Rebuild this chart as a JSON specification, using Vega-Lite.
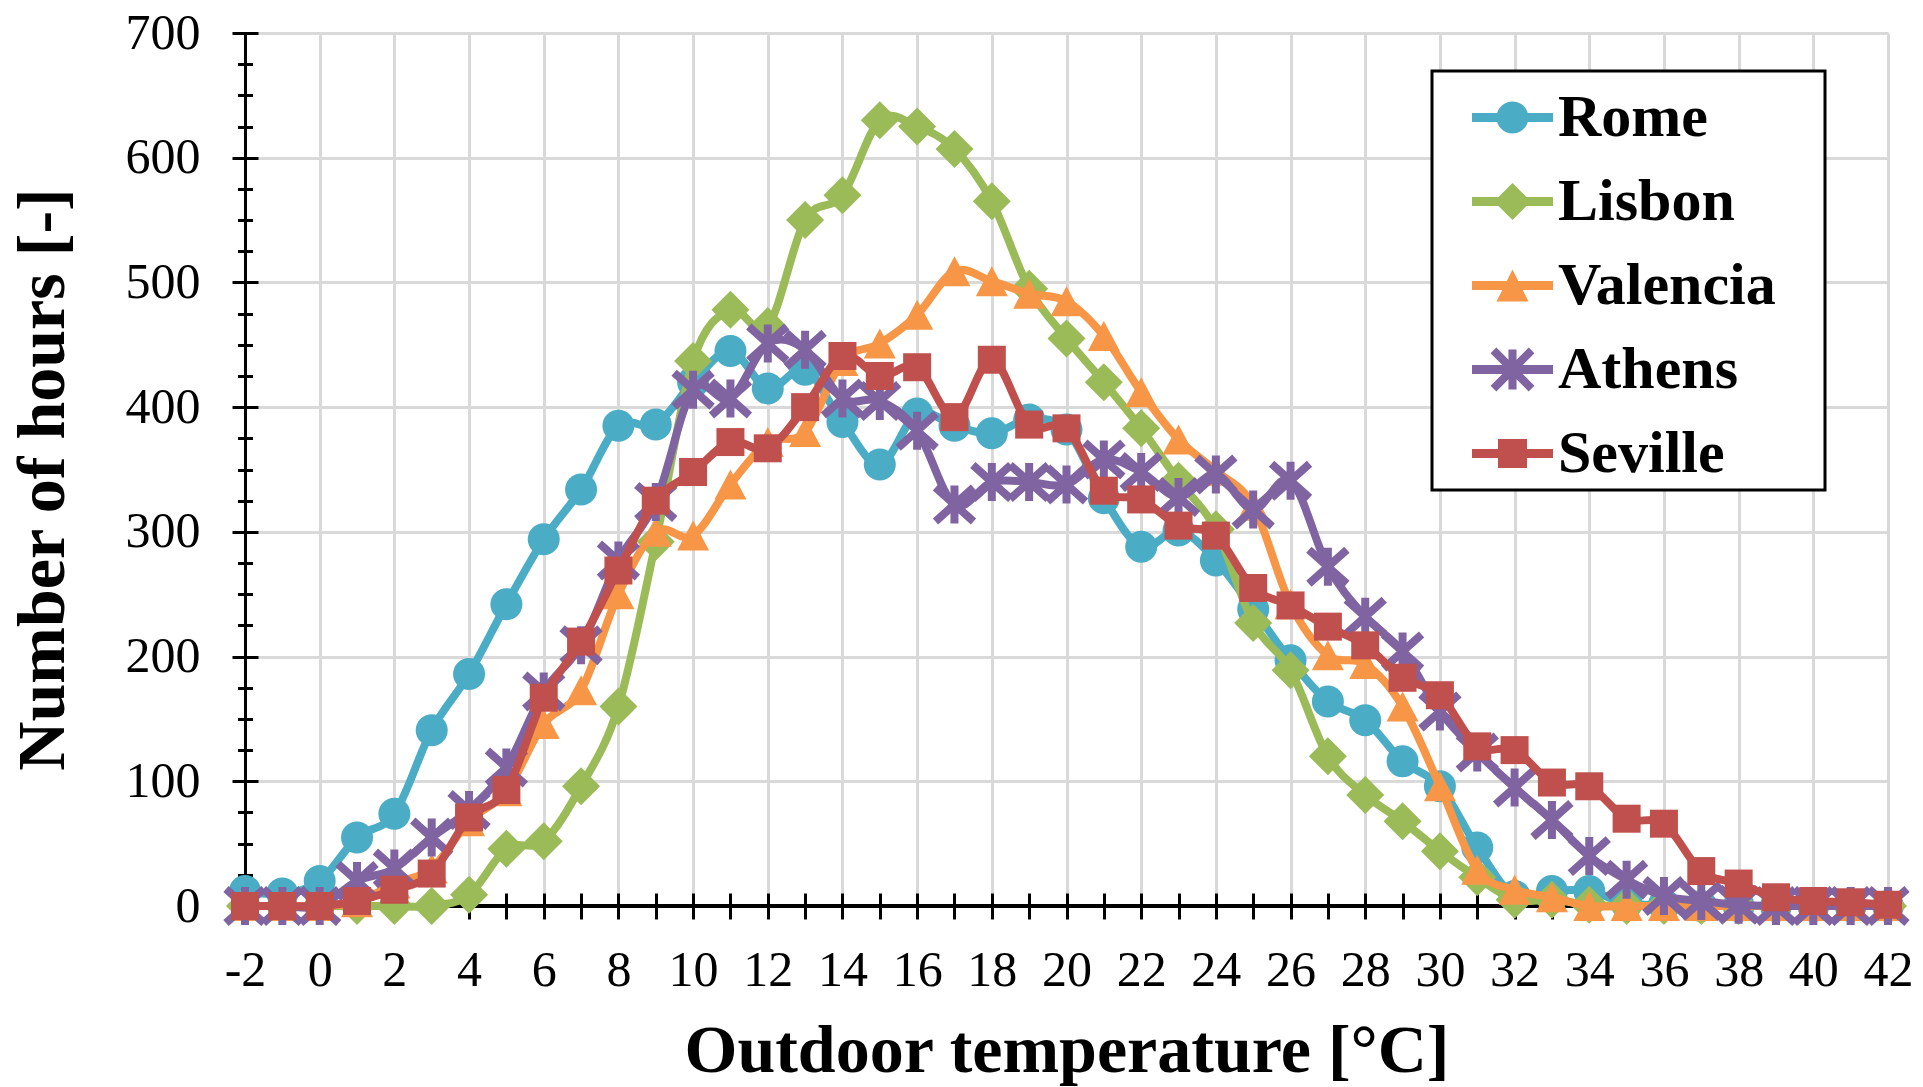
{
"$schema": "https://vega.github.io/schema/vega-lite/v6.json",
"width": 1643, "height": 873,
"autosize": {"type": "none"},
"padding": {"left": 245, "top": 33, "right": 35, "bottom": 181},
"background": "white",
"config": {"view": {"stroke": null}, "font": "Liberation Serif", "legend": {"strokeWidth": 3}},
"data": {"values": [
{"city":"Rome","temp":-2,"hours":12},{"city":"Rome","temp":-1,"hours":10},{"city":"Rome","temp":0,"hours":20},{"city":"Rome","temp":1,"hours":55},{"city":"Rome","temp":2,"hours":74},{"city":"Rome","temp":3,"hours":141},{"city":"Rome","temp":4,"hours":186},{"city":"Rome","temp":5,"hours":242},{"city":"Rome","temp":6,"hours":294},{"city":"Rome","temp":7,"hours":334},{"city":"Rome","temp":8,"hours":385},{"city":"Rome","temp":9,"hours":386},{"city":"Rome","temp":10,"hours":420},{"city":"Rome","temp":11,"hours":445},{"city":"Rome","temp":12,"hours":415},{"city":"Rome","temp":13,"hours":430},{"city":"Rome","temp":14,"hours":388},{"city":"Rome","temp":15,"hours":354},{"city":"Rome","temp":16,"hours":395},{"city":"Rome","temp":17,"hours":385},{"city":"Rome","temp":18,"hours":379},{"city":"Rome","temp":19,"hours":390},{"city":"Rome","temp":20,"hours":382},{"city":"Rome","temp":21,"hours":327},{"city":"Rome","temp":22,"hours":288},{"city":"Rome","temp":23,"hours":301},{"city":"Rome","temp":24,"hours":277},{"city":"Rome","temp":25,"hours":238},{"city":"Rome","temp":26,"hours":197},{"city":"Rome","temp":27,"hours":164},{"city":"Rome","temp":28,"hours":149},{"city":"Rome","temp":29,"hours":116},{"city":"Rome","temp":30,"hours":96},{"city":"Rome","temp":31,"hours":47},{"city":"Rome","temp":32,"hours":8},{"city":"Rome","temp":33,"hours":12},{"city":"Rome","temp":34,"hours":12},{"city":"Rome","temp":35,"hours":2},{"city":"Rome","temp":36,"hours":1},{"city":"Rome","temp":37,"hours":0},{"city":"Rome","temp":38,"hours":0},{"city":"Rome","temp":39,"hours":0},{"city":"Rome","temp":40,"hours":0},{"city":"Rome","temp":41,"hours":0},{"city":"Rome","temp":42,"hours":0},
{"city":"Lisbon","temp":-2,"hours":0},{"city":"Lisbon","temp":-1,"hours":0},{"city":"Lisbon","temp":0,"hours":0},{"city":"Lisbon","temp":1,"hours":0},{"city":"Lisbon","temp":2,"hours":0},{"city":"Lisbon","temp":3,"hours":0},{"city":"Lisbon","temp":4,"hours":9},{"city":"Lisbon","temp":5,"hours":46},{"city":"Lisbon","temp":6,"hours":52},{"city":"Lisbon","temp":7,"hours":96},{"city":"Lisbon","temp":8,"hours":160},{"city":"Lisbon","temp":9,"hours":292},{"city":"Lisbon","temp":10,"hours":437},{"city":"Lisbon","temp":11,"hours":478},{"city":"Lisbon","temp":12,"hours":465},{"city":"Lisbon","temp":13,"hours":550},{"city":"Lisbon","temp":14,"hours":570},{"city":"Lisbon","temp":15,"hours":630},{"city":"Lisbon","temp":16,"hours":625},{"city":"Lisbon","temp":17,"hours":607},{"city":"Lisbon","temp":18,"hours":565},{"city":"Lisbon","temp":19,"hours":495},{"city":"Lisbon","temp":20,"hours":455},{"city":"Lisbon","temp":21,"hours":420},{"city":"Lisbon","temp":22,"hours":383},{"city":"Lisbon","temp":23,"hours":341},{"city":"Lisbon","temp":24,"hours":302},{"city":"Lisbon","temp":25,"hours":227},{"city":"Lisbon","temp":26,"hours":189},{"city":"Lisbon","temp":27,"hours":120},{"city":"Lisbon","temp":28,"hours":89},{"city":"Lisbon","temp":29,"hours":68},{"city":"Lisbon","temp":30,"hours":44},{"city":"Lisbon","temp":31,"hours":23},{"city":"Lisbon","temp":32,"hours":5},{"city":"Lisbon","temp":33,"hours":5},{"city":"Lisbon","temp":34,"hours":1},{"city":"Lisbon","temp":35,"hours":0},{"city":"Lisbon","temp":36,"hours":0},{"city":"Lisbon","temp":37,"hours":0},{"city":"Lisbon","temp":38,"hours":0},{"city":"Lisbon","temp":39,"hours":0},{"city":"Lisbon","temp":40,"hours":0},{"city":"Lisbon","temp":41,"hours":0},{"city":"Lisbon","temp":42,"hours":0},
{"city":"Valencia","temp":-2,"hours":0},{"city":"Valencia","temp":-1,"hours":0},{"city":"Valencia","temp":0,"hours":0},{"city":"Valencia","temp":1,"hours":3},{"city":"Valencia","temp":2,"hours":18},{"city":"Valencia","temp":3,"hours":30},{"city":"Valencia","temp":4,"hours":68},{"city":"Valencia","temp":5,"hours":92},{"city":"Valencia","temp":6,"hours":146},{"city":"Valencia","temp":7,"hours":173},{"city":"Valencia","temp":8,"hours":250},{"city":"Valencia","temp":9,"hours":300},{"city":"Valencia","temp":10,"hours":297},{"city":"Valencia","temp":11,"hours":338},{"city":"Valencia","temp":12,"hours":372},{"city":"Valencia","temp":13,"hours":380},{"city":"Valencia","temp":14,"hours":437},{"city":"Valencia","temp":15,"hours":451},{"city":"Valencia","temp":16,"hours":474},{"city":"Valencia","temp":17,"hours":509},{"city":"Valencia","temp":18,"hours":501},{"city":"Valencia","temp":19,"hours":491},{"city":"Valencia","temp":20,"hours":485},{"city":"Valencia","temp":21,"hours":457},{"city":"Valencia","temp":22,"hours":412},{"city":"Valencia","temp":23,"hours":374},{"city":"Valencia","temp":24,"hours":349},{"city":"Valencia","temp":25,"hours":321},{"city":"Valencia","temp":26,"hours":242},{"city":"Valencia","temp":27,"hours":201},{"city":"Valencia","temp":28,"hours":194},{"city":"Valencia","temp":29,"hours":160},{"city":"Valencia","temp":30,"hours":96},{"city":"Valencia","temp":31,"hours":29},{"city":"Valencia","temp":32,"hours":13},{"city":"Valencia","temp":33,"hours":7},{"city":"Valencia","temp":34,"hours":0},{"city":"Valencia","temp":35,"hours":0},{"city":"Valencia","temp":36,"hours":0},{"city":"Valencia","temp":37,"hours":0},{"city":"Valencia","temp":38,"hours":0},{"city":"Valencia","temp":39,"hours":0},{"city":"Valencia","temp":40,"hours":0},{"city":"Valencia","temp":41,"hours":0},{"city":"Valencia","temp":42,"hours":0},
{"city":"Athens","temp":-2,"hours":0},{"city":"Athens","temp":-1,"hours":0},{"city":"Athens","temp":0,"hours":0},{"city":"Athens","temp":1,"hours":20},{"city":"Athens","temp":2,"hours":30},{"city":"Athens","temp":3,"hours":55},{"city":"Athens","temp":4,"hours":77},{"city":"Athens","temp":5,"hours":111},{"city":"Athens","temp":6,"hours":172},{"city":"Athens","temp":7,"hours":209},{"city":"Athens","temp":8,"hours":277},{"city":"Athens","temp":9,"hours":324},{"city":"Athens","temp":10,"hours":414},{"city":"Athens","temp":11,"hours":407},{"city":"Athens","temp":12,"hours":451},{"city":"Athens","temp":13,"hours":446},{"city":"Athens","temp":14,"hours":407},{"city":"Athens","temp":15,"hours":405},{"city":"Athens","temp":16,"hours":381},{"city":"Athens","temp":17,"hours":322},{"city":"Athens","temp":18,"hours":340},{"city":"Athens","temp":19,"hours":340},{"city":"Athens","temp":20,"hours":338},{"city":"Athens","temp":21,"hours":358},{"city":"Athens","temp":22,"hours":348},{"city":"Athens","temp":23,"hours":328},{"city":"Athens","temp":24,"hours":346},{"city":"Athens","temp":25,"hours":318},{"city":"Athens","temp":26,"hours":341},{"city":"Athens","temp":27,"hours":272},{"city":"Athens","temp":28,"hours":232},{"city":"Athens","temp":29,"hours":204},{"city":"Athens","temp":30,"hours":156},{"city":"Athens","temp":31,"hours":123},{"city":"Athens","temp":32,"hours":95},{"city":"Athens","temp":33,"hours":69},{"city":"Athens","temp":34,"hours":40},{"city":"Athens","temp":35,"hours":21},{"city":"Athens","temp":36,"hours":8},{"city":"Athens","temp":37,"hours":4},{"city":"Athens","temp":38,"hours":1},{"city":"Athens","temp":39,"hours":0},{"city":"Athens","temp":40,"hours":0},{"city":"Athens","temp":41,"hours":0},{"city":"Athens","temp":42,"hours":0},
{"city":"Seville","temp":-2,"hours":0},{"city":"Seville","temp":-1,"hours":0},{"city":"Seville","temp":0,"hours":0},{"city":"Seville","temp":1,"hours":4},{"city":"Seville","temp":2,"hours":13},{"city":"Seville","temp":3,"hours":26},{"city":"Seville","temp":4,"hours":71},{"city":"Seville","temp":5,"hours":93},{"city":"Seville","temp":6,"hours":167},{"city":"Seville","temp":7,"hours":212},{"city":"Seville","temp":8,"hours":269},{"city":"Seville","temp":9,"hours":325},{"city":"Seville","temp":10,"hours":348},{"city":"Seville","temp":11,"hours":372},{"city":"Seville","temp":12,"hours":367},{"city":"Seville","temp":13,"hours":400},{"city":"Seville","temp":14,"hours":441},{"city":"Seville","temp":15,"hours":425},{"city":"Seville","temp":16,"hours":432},{"city":"Seville","temp":17,"hours":392},{"city":"Seville","temp":18,"hours":438},{"city":"Seville","temp":19,"hours":386},{"city":"Seville","temp":20,"hours":383},{"city":"Seville","temp":21,"hours":333},{"city":"Seville","temp":22,"hours":326},{"city":"Seville","temp":23,"hours":305},{"city":"Seville","temp":24,"hours":297},{"city":"Seville","temp":25,"hours":255},{"city":"Seville","temp":26,"hours":241},{"city":"Seville","temp":27,"hours":224},{"city":"Seville","temp":28,"hours":209},{"city":"Seville","temp":29,"hours":183},{"city":"Seville","temp":30,"hours":169},{"city":"Seville","temp":31,"hours":128},{"city":"Seville","temp":32,"hours":125},{"city":"Seville","temp":33,"hours":99},{"city":"Seville","temp":34,"hours":96},{"city":"Seville","temp":35,"hours":70},{"city":"Seville","temp":36,"hours":66},{"city":"Seville","temp":37,"hours":28},{"city":"Seville","temp":38,"hours":18},{"city":"Seville","temp":39,"hours":7},{"city":"Seville","temp":40,"hours":4},{"city":"Seville","temp":41,"hours":3},{"city":"Seville","temp":42,"hours":1}
]},
"resolve": {"axis": {"x": "independent", "y": "independent"}},
"layer": [
{
"mark": {"type": "rule", "color": "black", "strokeWidth": 3},
"encoding": {
"y": {"datum": 0, "type": "quantitative", "scale": {"domain": [0, 700], "nice": false},
"axis": {"orient": "left", "values": [0,25,50,75,100,125,150,175,200,225,250,275,300,325,350,375,400,425,450,475,500,525,550,575,600,625,650,675,700], "offset": -7.5, "tickSize": 15, "tickWidth": 3, "tickColor": "black", "labels": false, "domain": false, "grid": false, "title": null}}
}
},
{
"transform": [{"filter": "datum.city === 'Rome'"}],
"mark": {"type": "line", "interpolate": "cardinal", "strokeWidth": 8, "strokeCap": "round", "strokeJoin": "round"},
"encoding": {
"x": {"field": "temp", "type": "quantitative", "scale": {"domain": [-2, 42], "nice": false, "zero": false},
"axis": {"orient": "bottom", "values": [-2,0,2,4,6,8,10,12,14,16,18,20,22,24,26,28,30,32,34,36,38,40,42], "grid": true, "gridColor": "#d9d9d9", "gridWidth": 3, "domain": true, "domainColor": "black", "domainWidth": 3, "ticks": false, "tickSize": 0, "labelFont": "Liberation Serif", "labelFontSize": 50, "labelColor": "black", "labelPadding": 79, "labelBaseline": "alphabetic", "labelFlush": false, "labelOverlap": false, "labelExpr": "'' + datum.value", "title": "Outdoor temperature [°C]", "titleFont": "Liberation Serif", "titleFontSize": 68, "titleFontWeight": "bold", "titleColor": "black", "titleX": 821.5, "titleY": 165, "titleAlign": "center", "titleBaseline": "alphabetic"}},
"y": {"field": "hours", "type": "quantitative", "scale": {"domain": [0, 700], "nice": false},
"axis": {"orient": "left", "values": [0,100,200,300,400,500,600,700], "grid": true, "gridColor": "#d9d9d9", "gridWidth": 3, "domain": true, "domainColor": "black", "domainWidth": 3, "ticks": false, "tickSize": 0, "labelFont": "Liberation Serif", "labelFontSize": 50, "labelColor": "black", "labelPadding": 45, "labelBaseline": "middle", "labelFlush": false, "labelOverlap": false, "title": "Number of hours [-]", "titleFont": "Liberation Serif", "titleFontSize": 68, "titleFontWeight": "bold", "titleColor": "black", "titleX": -182, "titleY": 446, "titleAngle": -90, "titleAlign": "center", "titleBaseline": "alphabetic"}},
"color": {"field": "city", "type": "nominal",
"scale": {"domain": ["Rome","Lisbon","Valencia","Athens","Seville"], "range": ["#4BACC6","#9BBB59","#F79646","#8064A2","#C0504D"]},
"legend": {"orient": "none", "legendX": 1187, "legendY": 38, "title": ".", "titleOrient": "right", "titleColor": "white", "titleFontSize": 10, "titlePadding": 40, "direction": "vertical", "fillColor": "white", "strokeColor": "black", "padding": 6, "symbolOffset": 34, "symbolSize": 6561, "symbolType": "circle", "labelFont": "Liberation Serif", "labelFontSize": 60, "labelFontWeight": "bold", "labelColor": "black", "labelOffset": 5, "labelLimit": 500, "rowPadding": 13,
"encode": {"symbols": {"update": {
"shape": {"signal": "datum.value === 'Rome' ? 'M-1 -0.111H1V0.111H-1ZM0.395 0A0.395 0.395 0 1 1 -0.395 0A0.395 0.395 0 1 1 0.395 0Z' : datum.value === 'Lisbon' ? 'M-1 -0.111H1V0.111H-1ZM0 -0.457L0.457 0L0 0.457L-0.457 0Z' : datum.value === 'Valencia' ? 'M-1 -0.111H1V0.111H-1ZM0 -0.395L0.395 0.395L-0.395 0.395Z' : datum.value === 'Athens' ? 'M-1 -0.111H1V0.111H-1ZM-0.1 -0.494H0.1V0.494H-0.1ZM-0.399 -0.541L0.541 0.399L0.399 0.541L-0.541 -0.399ZM0.541 -0.399L-0.399 0.541L-0.541 0.399L0.399 -0.541Z' : 'M-1 -0.111H1V0.111H-1ZM-0.358 -0.358H0.358V0.358H-0.358Z'"},
"fill": {"scale": "color", "field": "value"},
"strokeWidth": {"value": 0},
"opacity": {"value": 1},
"fillOpacity": {"value": 1}
}}}
}
}
}
},
{
"transform": [{"filter": "datum.city === 'Rome'"}],
"mark": {"type": "point", "filled": true, "opacity": 1, "size": 1600, "strokeWidth": 0, "color": "#4BACC6", "shape": "M0.8 0A0.8 0.8 0 1 1 -0.8 0A0.8 0.8 0 1 1 0.8 0Z"},
"encoding": {
"x": {"field": "temp", "type": "quantitative", "scale": {"domain": [-2, 42], "nice": false, "zero": false},
"axis": {"orient": "bottom", "values": [-2,-1,0,1,2,3,4,5,6,7,8,9,10,11,12,13,14,15,16,17,18,19,20,21,22,23,24,25,26,27,28,29,30,31,32,33,34,35,36,37,38,39,40,41,42], "offset": -13, "tickSize": 26, "tickWidth": 3, "tickColor": "black", "labels": false, "domain": false, "grid": false, "title": null}},
"y": {"field": "hours", "type": "quantitative", "scale": {"domain": [0, 700], "nice": false},
"axis": {"orient": "left", "values": [0,100,200,300,400,500,600,700], "offset": -13, "tickSize": 26, "tickWidth": 3, "tickColor": "black", "labels": false, "domain": false, "grid": false, "title": null}}
}
},
{
"transform": [{"filter": "datum.city === 'Lisbon'"}],
"mark": {"type": "line", "interpolate": "cardinal", "strokeWidth": 8, "strokeCap": "round", "strokeJoin": "round", "color": "#9BBB59"},
"encoding": {
"x": {"field": "temp", "type": "quantitative", "axis": null},
"y": {"field": "hours", "type": "quantitative", "axis": null}
}
},
{
"transform": [{"filter": "datum.city === 'Lisbon'"}],
"mark": {"type": "point", "filled": true, "opacity": 1, "size": 1600, "strokeWidth": 0, "color": "#9BBB59", "shape": "M0 -0.95L0.95 0L0 0.95L-0.95 0Z"},
"encoding": {
"x": {"field": "temp", "type": "quantitative", "axis": null},
"y": {"field": "hours", "type": "quantitative", "axis": null}
}
},
{
"transform": [{"filter": "datum.city === 'Valencia'"}],
"mark": {"type": "line", "interpolate": "cardinal", "strokeWidth": 8, "strokeCap": "round", "strokeJoin": "round", "color": "#F79646"},
"encoding": {
"x": {"field": "temp", "type": "quantitative", "axis": null},
"y": {"field": "hours", "type": "quantitative", "axis": null}
}
},
{
"transform": [{"filter": "datum.city === 'Valencia'"}],
"mark": {"type": "point", "filled": true, "opacity": 1, "size": 1600, "strokeWidth": 0, "color": "#F79646", "shape": "M0 -0.75L0.8 0.75L-0.8 0.75Z"},
"encoding": {
"x": {"field": "temp", "type": "quantitative", "axis": null},
"y": {"field": "hours", "type": "quantitative", "axis": null}
}
},
{
"transform": [{"filter": "datum.city === 'Athens'"}],
"mark": {"type": "line", "interpolate": "cardinal", "strokeWidth": 8, "strokeCap": "round", "strokeJoin": "round", "color": "#8064A2"},
"encoding": {
"x": {"field": "temp", "type": "quantitative", "axis": null},
"y": {"field": "hours", "type": "quantitative", "axis": null}
}
},
{
"transform": [{"filter": "datum.city === 'Athens'"}],
"mark": {"type": "point", "filled": true, "opacity": 1, "size": 1600, "strokeWidth": 0, "color": "#8064A2", "shape": "M-0.2 -0.95H0.2V0.95H-0.2ZM-0.817 -0.999L1.083 0.701L0.817 0.999L-1.083 -0.701ZM1.083 -0.701L-0.817 0.999L-1.083 0.701L0.817 -0.999Z"},
"encoding": {
"x": {"field": "temp", "type": "quantitative", "axis": null},
"y": {"field": "hours", "type": "quantitative", "axis": null}
}
},
{
"transform": [{"filter": "datum.city === 'Seville'"}],
"mark": {"type": "line", "interpolate": "cardinal", "strokeWidth": 8, "strokeCap": "round", "strokeJoin": "round", "color": "#C0504D"},
"encoding": {
"x": {"field": "temp", "type": "quantitative", "axis": null},
"y": {"field": "hours", "type": "quantitative", "axis": null}
}
},
{
"transform": [{"filter": "datum.city === 'Seville'"}],
"mark": {"type": "point", "filled": true, "opacity": 1, "size": 1600, "strokeWidth": 0, "color": "#C0504D", "shape": "M-0.7 -0.7H0.7V0.7H-0.7Z"},
"encoding": {
"x": {"field": "temp", "type": "quantitative", "axis": null},
"y": {"field": "hours", "type": "quantitative", "axis": null}
}
}
]
}
